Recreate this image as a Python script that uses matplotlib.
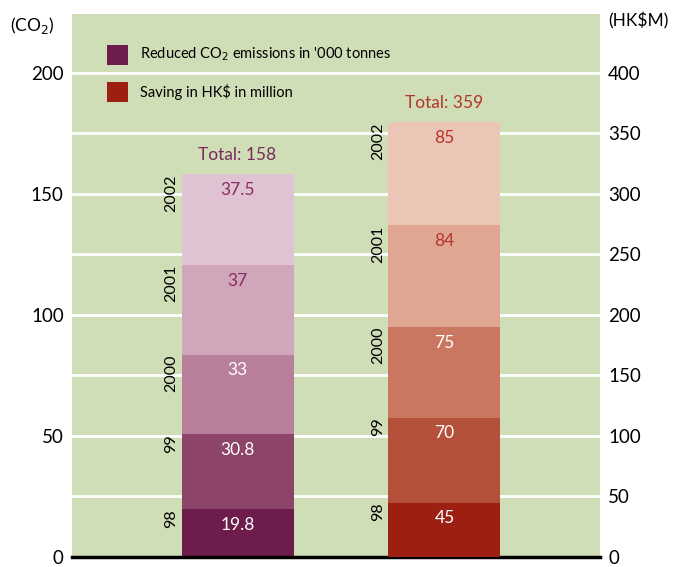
import numpy as np
import matplotlib.pyplot as plt

years = ['98', '99', '2000', '2001', '2002']
co2 = [19.8, 30.8, 33, 37, 37.5]
hkd = [45, 70, 75, 84, 85]
co2_labels = ['19.8', '30.8', '33', '37', '37.5']
hkd_labels = ['45', '70', '75', '84', '85']
co2_total = 158
hkd_total = 359

co2_colors = ['#6d1c4b', '#8c4469', '#b77f9c', '#cfa6ba', '#dfc3d3']
hkd_colors = ['#9c1f12', '#b5503a', '#c97760', '#dfa792', '#ebc6b6']
co2_text = ['white', 'white', 'white', '#8a2c64', '#8a2c64']
hkd_text = ['white', 'white', 'white', '#b5342a', '#b5342a']

plt.rcParams['font.family'] = ['Lato', 'DejaVu Sans']

fig = plt.figure(figsize=(6.8, 5.67), dpi=100)
ax = fig.add_axes([0.106, 0.0176, 0.776, 0.957])
ax2 = ax.twinx()

ax.set_facecolor('#cfdeb6')
ax.set_xlim(0.2, 2.751)
ax.set_ylim(0, 224)
ax2.set_ylim(0, 448)
for y in np.arange(25, 201, 25):
    ax.axhline(y, color='white', lw=2, zorder=1)

w = 0.541
# left bar (CO2)
bottom = 0
for i in range(len(co2)):
    ax.bar(1, co2[i], w, bottom=bottom, color=co2_colors[i], zorder=2)
    top = bottom + co2[i]
    ax.text(1, top - 6.5, co2_labels[i], ha='center', va='center',
            color=co2_text[i], fontsize=12.5, zorder=3)
    ax.text(1 - w / 2 - 0.05, top, years[i], rotation=90, ha='center', va='top',
            fontsize=11.5, zorder=3)
    bottom = top
ax.text(1, bottom + 8, 'Total: %d' % co2_total, ha='center', va='center',
        color='#7a2a5a', fontsize=12.5)

# right bar (HK$)
bottom = 0
for i in range(len(hkd)):
    ax2.bar(2, hkd[i], w, bottom=bottom, color=hkd_colors[i], zorder=2)
    top = bottom + hkd[i]
    ax2.text(2, top - 13, hkd_labels[i], ha='center', va='center',
             color=hkd_text[i], fontsize=12.5, zorder=3)
    ax2.text(2 - w / 2 - 0.05, top, years[i], rotation=90, ha='center', va='top',
             fontsize=11.5, zorder=3)
    bottom = top
ax2.text(2, bottom + 16, 'Total: %d' % hkd_total, ha='center', va='center',
         color='#b5342a', fontsize=12.5)

ax.set_yticks([0, 50, 100, 150, 200])
ax2.set_yticks([0, 50, 100, 150, 200, 250, 300, 350, 400])
ax.set_xticks([])
for a in (ax, ax2):
    a.tick_params(length=0, labelsize=13.5, pad=6)
    for s in a.spines.values():
        s.set_visible(False)
ax.axhline(0, color='black', lw=2.5, zorder=4, clip_on=False)

fig.text(0.015, 0.955, '(CO$_2$)', fontsize=12.5, ha='left', va='center')
fig.text(0.895, 0.963, '(HK$M)', fontsize=12.5, ha='left', va='center')

# legend
ax.bar(0.42, 8.2, 0.101, bottom=203.3, color='#6d1c4b', zorder=3)
ax.bar(0.42, 8.0, 0.101, bottom=188.0, color='#9c1f12', zorder=3)
ax.text(0.529, 207.4, "Reduced CO$_2$ emissions in '000 tonnes", fontsize=10.5, va='center')
ax.text(0.529, 192.0, 'Saving in HK$ in million', fontsize=10.5, va='center')

fig.savefig('out.png', dpi=100)
